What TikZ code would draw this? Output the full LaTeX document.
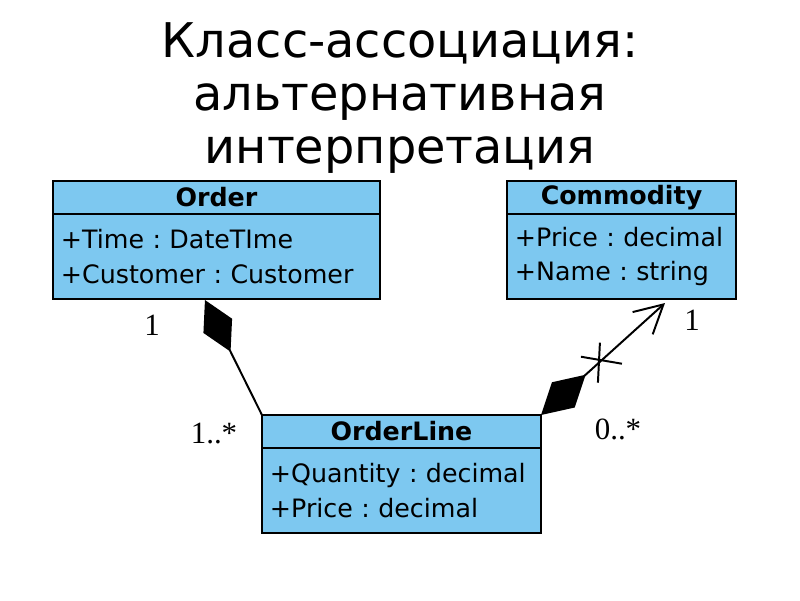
\documentclass[tikz,border=0pt]{standalone}
\usepackage{fontspec}
\setmainfont{DejaVu Sans}
\newfontfamily\multfont{Liberation Serif}
\usepackage{tikz}
\usetikzlibrary{arrows.meta,calc,positioning}
\frenchspacing
\definecolor{umlblue}{RGB}{125,200,240}
\tikzset{
  classhead/.style={draw, line width=1.6pt, fill=umlblue, outer sep=0pt, inner sep=0pt,
    minimum height=0.825cm, font=\fontsize{18}{22}\selectfont\bfseries},
  classbody/.style={draw, line width=1.6pt, fill=umlblue, outer sep=0pt, inner xsep=0.2cm,
    inner ysep=0pt, minimum height=2.125cm, align=left, font=\fontsize{18}{24.5}\selectfont},
  mult/.style={font=\multfont\fontsize{22}{22}\selectfont},
  assoc/.style={line width=1.4pt},
}

\begin{document}
\begin{tikzpicture}[x=0.025cm,y=-0.025cm]
        \useasboundingbox (0,0) rectangle (800,600);
        % Title
        \node[align=center, font=\fontsize{34}{37.5}\selectfont] (title) at (400,98)
          {Класс-ассоциация:\\альтернативная\\интерпретация};
        % classes
        \node[classhead, minimum width=8.175cm] (orderhead) at (216.5,197.5) {Order};
        \node[classbody, text width=7.775cm, below=0pt of orderhead] (orderattr)
          {+Time : DateTIme\\+Customer : Customer};
        \node[classhead, minimum width=5.725cm] (comhead) at (621.5,197.5) {Commodity};
        \node[classbody, text width=5.325cm, below=0pt of comhead] (comattr)
          {+Price : decimal\\+Name : string};
        \node[classhead, minimum width=6.975cm] (linehead) at (401.5,431.5) {OrderLine};
        \node[classbody, text width=6.575cm, below=0pt of linehead] (lineattr)
          {+Quantity : decimal\\+Price : decimal};
        %associations
        \coordinate (orderfoot) at ($(orderattr.south west)+(152,1)$);
        \coordinate (comfoot) at ($(comattr.south west)+(158,4)$);
        \draw[assoc, {Diamond[length=1.44cm,width=0.8cm]}-] (orderfoot) -- (linehead.north west);
        \draw[assoc, {Diamond[length=1.5cm,width=0.85cm]}-{Straight Barb[length=0.7cm,width=0.75cm]}]
          (linehead.north east) -- (comfoot) coordinate[pos=0.467] (xmark);
        \draw[assoc] ($(xmark)+(-18,-6)$) -- ($(xmark)+(23,1)$);
        \draw[assoc] ($(xmark)+(1,-20)$) -- ($(xmark)+(-1,20)$);
        % multiplicities
        \node[mult] (m1) at (152,325) {1};
        \node[mult] (m2) at (214,433) {1..*};
        \node[mult] (m3) at (692,320) {1};
        \node[mult] (m4) at (618,429) {0..*};
\end{tikzpicture}
\end{document}
